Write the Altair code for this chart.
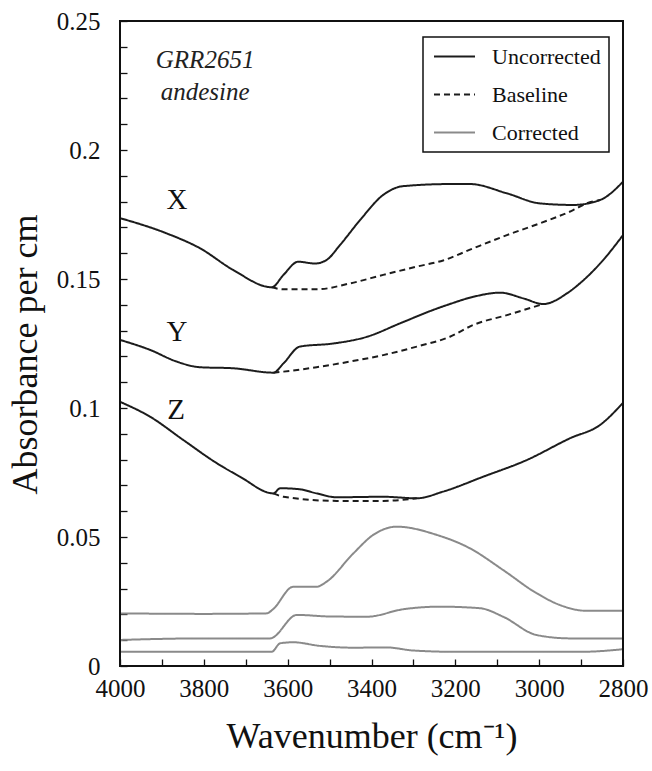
import altair as alt
import pandas as pd

# ---- data ----
x_unc_wn = [4000, 3889, 3809, 3730, 3638, 3610, 3575, 3535, 3507, 3475, 3427, 3372, 3324, 3213, 3165, 3077, 2998, 2919, 2855, 2800]
x_unc_ab = [0.1736, 0.1677, 0.1619, 0.1535, 0.1468, 0.1516, 0.1567, 0.1560, 0.1574, 0.1632, 0.1729, 0.1826, 0.1860, 0.1868, 0.1868, 0.1832, 0.1793, 0.1787, 0.1806, 0.1877]
x_base_wn = [3638, 3610, 3531, 3451, 3372, 3292, 3229, 3157, 3077, 2998, 2919, 2887, 2855]
x_base_ab = [0.1468, 0.1460, 0.1460, 0.1483, 0.1516, 0.1548, 0.1572, 0.1619, 0.1670, 0.1716, 0.1767, 0.1793, 0.1806]

y_unc_wn = [4000, 3928, 3865, 3809, 3730, 3634, 3610, 3571, 3491, 3411, 3332, 3253, 3213, 3157, 3093, 3038, 2990, 2934, 2903, 2847, 2800]
y_unc_ab = [0.1264, 0.1225, 0.1180, 0.1158, 0.1154, 0.1137, 0.1173, 0.1238, 0.1250, 0.1276, 0.1328, 0.1380, 0.1403, 0.1431, 0.1447, 0.1425, 0.1403, 0.1444, 0.1483, 0.1574, 0.1670]
y_base_wn = [3634, 3610, 3531, 3451, 3372, 3292, 3213, 3157, 3077, 2990]
y_base_ab = [0.1137, 0.1141, 0.1158, 0.1180, 0.1205, 0.1238, 0.1276, 0.1322, 0.1360, 0.1403]

z_unc_wn = [4000, 3928, 3849, 3769, 3714, 3634, 3618, 3571, 3531, 3483, 3372, 3292, 3229, 3133, 3030, 2926, 2855, 2800]
z_unc_ab = [0.1024, 0.0966, 0.0876, 0.0786, 0.0734, 0.0669, 0.0689, 0.0685, 0.0669, 0.0654, 0.0656, 0.0650, 0.0676, 0.0734, 0.0798, 0.0883, 0.0934, 0.1020]
z_base_wn = [3634, 3610, 3483, 3372, 3292]
z_base_ab = [0.0669, 0.0656, 0.0640, 0.0640, 0.0650]

x_cor_wn = [4000, 3800, 3650, 3635, 3587, 3531, 3507, 3443, 3396, 3340, 3244, 3165, 3086, 3006, 2950, 2887, 2800]
x_cor_ab = [0.0204, 0.0202, 0.0204, 0.0220, 0.0307, 0.0307, 0.0327, 0.0437, 0.0508, 0.0540, 0.0508, 0.0456, 0.0372, 0.0282, 0.0236, 0.0214, 0.0214]
y_cor_wn = [4000, 3800, 3642, 3578, 3500, 3411, 3324, 3237, 3141, 3086, 3006, 2926, 2800]
y_cor_ab = [0.0101, 0.0107, 0.0107, 0.0198, 0.0192, 0.0191, 0.0220, 0.0230, 0.0224, 0.0191, 0.0120, 0.0107, 0.0107]
z_cor_wn = [4000, 3638, 3618, 3587, 3523, 3443, 3364, 3300, 3200, 2900, 2800]
z_cor_ab = [0.0055, 0.0055, 0.0088, 0.0092, 0.0078, 0.0071, 0.0072, 0.0060, 0.0055, 0.0055, 0.0065]

kinds = ["Uncorrected", "Baseline", "Corrected"]
x_ticks = [2800, 2900, 3000, 3100, 3200, 3300, 3400, 3500, 3600, 3700, 3800, 3900, 4000]
y_ticks = [0, 0.01, 0.02, 0.03, 0.04, 0.05, 0.06, 0.07, 0.08, 0.09, 0.1, 0.11, 0.12,
           0.13, 0.14, 0.15, 0.16, 0.17, 0.18, 0.19, 0.2, 0.21, 0.22, 0.23, 0.24, 0.25]
y_labelled = [0, 0.05, 0.1, 0.15, 0.2, 0.25]

curve_labels = ["X", "Y", "Z"]
curve_label_wn = [3864, 3864, 3866]
curve_label_ab = [0.1806, 0.1295, 0.0992]
sample_text = ["GRR2651", "andesine"]
sample_wn = [3797, 3797]
sample_ab = [0.2349, 0.2225]

# ---- build table ----
series = [
    ("X-unc", "Uncorrected", x_unc_wn, x_unc_ab),
    ("X-base", "Baseline", x_base_wn, x_base_ab),
    ("Y-unc", "Uncorrected", y_unc_wn, y_unc_ab),
    ("Y-base", "Baseline", y_base_wn, y_base_ab),
    ("Z-unc", "Uncorrected", z_unc_wn, z_unc_ab),
    ("Z-base", "Baseline", z_base_wn, z_base_ab),
    ("X-cor", "Corrected", x_cor_wn, x_cor_ab),
    ("Y-cor", "Corrected", y_cor_wn, y_cor_ab),
    ("Z-cor", "Corrected", z_cor_wn, z_cor_ab),
]
rows = []
for cid, kind, wns, abs_ in series:
    for i, (w, a) in enumerate(zip(wns, abs_)):
        rows.append({"curve": cid, "kind": kind, "wn": w, "ab": a, "order": i})
df = pd.DataFrame(rows)

FONT = "Liberation Serif"
W, H = 503, 645

xscale = alt.Scale(domain=[2800, 4000], reverse=True, nice=False, zero=False)
yscale = alt.Scale(domain=[0, 0.25], nice=False, zero=False)

y_label_list = "[" + ",".join(str(v) for v in y_labelled) + "]"

xaxis = alt.Axis(
    values=x_ticks, format="d",
    labelExpr="datum.value % 200 == 0 ? datum.label : ''",
    labelOverlap=False, labelFlush=False,
    offset=-7, tickSize=7, domain=False, grid=False,
    labelFont=FONT, labelFontSize=25, labelColor="#111", labelPadding=10,
    tickColor="#111", tickWidth=1.3,
    title="Wavenumber (cm⁻¹)", titleFont=FONT, titleFontSize=36,
    titleFontWeight="normal", titleColor="#111", titlePadding=18,
)
yaxis = alt.Axis(
    values=y_ticks, format="~g",
    labelExpr="indexof(" + y_label_list + ", datum.value) >= 0 ? datum.label : ''",
    labelOverlap=False, labelFlush=False,
    offset=-7, tickSize=7, domain=False, grid=False,
    labelFont=FONT, labelFontSize=25, labelColor="#111", labelPadding=20,
    tickColor="#111", tickWidth=1.3,
    title="Absorbance per cm", titleFont=FONT, titleFontSize=36,
    titleFontWeight="normal", titleColor="#111", titlePadding=12, titleY=333,
)

legend = alt.Legend(
    title=None, orient="none", legendX=303, legendY=16,
    strokeColor="#111", fillColor="white",
    padding=8, symbolType="M-2,0H2", symbolSize=420, symbolStrokeWidth=2,
    symbolOffset=12,
    labelFont=FONT, labelFontSize=22, labelColor="#111", labelOffset=26,
    rowPadding=15,
)

lines = alt.Chart(df).mark_line(strokeWidth=2, interpolate="monotone").encode(
    x=alt.X("wn:Q", scale=xscale, axis=xaxis),
    y=alt.Y("ab:Q", scale=yscale, axis=yaxis),
    detail="curve:N",
    order="order:Q",
    color=alt.Color("kind:N", scale=alt.Scale(domain=kinds, range=["#1c1c1c", "#1c1c1c", "#8a8a8a"]),
                    legend=legend),
    strokeDash=alt.StrokeDash("kind:N", scale=alt.Scale(domain=kinds, range=[[1, 0], [6, 4], [1, 0]]),
                              legend=legend),
)

lab_df = pd.DataFrame({"t": curve_labels, "wn": curve_label_wn, "ab": curve_label_ab})
labels = alt.Chart(lab_df).mark_text(font=FONT, fontSize=29, color="#111").encode(
    x=alt.X("wn:Q", scale=xscale, axis=xaxis), y=alt.Y("ab:Q", scale=yscale, axis=yaxis), text="t:N")

s_df = pd.DataFrame({"t": sample_text, "wn": sample_wn, "ab": sample_ab})
sample = alt.Chart(s_df).mark_text(font=FONT, fontSize=25, fontStyle="italic", color="#222").encode(
    x=alt.X("wn:Q", scale=xscale, axis=xaxis), y=alt.Y("ab:Q", scale=yscale, axis=yaxis), text="t:N")

# plot-area frame (decoration)
frame = alt.Chart(pd.DataFrame({"f": [0]})).mark_rect(
    fill="transparent", stroke="#111", strokeWidth=2
).encode(x=alt.value(0), x2=alt.value(W), y=alt.value(0), y2=alt.value(H))

chart = alt.layer(lines, labels, sample, frame).properties(
    width=W, height=H,
    background="white",
    autosize=alt.AutoSizeParams(type="none"),
    padding={"left": 120, "top": 21, "right": 29, "bottom": 105},
).configure_view(
    stroke="#111", strokeWidth=2
).configure_legend(
    strokeWidth=1.5
).configure_axis(
    labelOverlap=False
)

chart.save("out.html", embed_options={"renderer": "svg", "actions": False})
